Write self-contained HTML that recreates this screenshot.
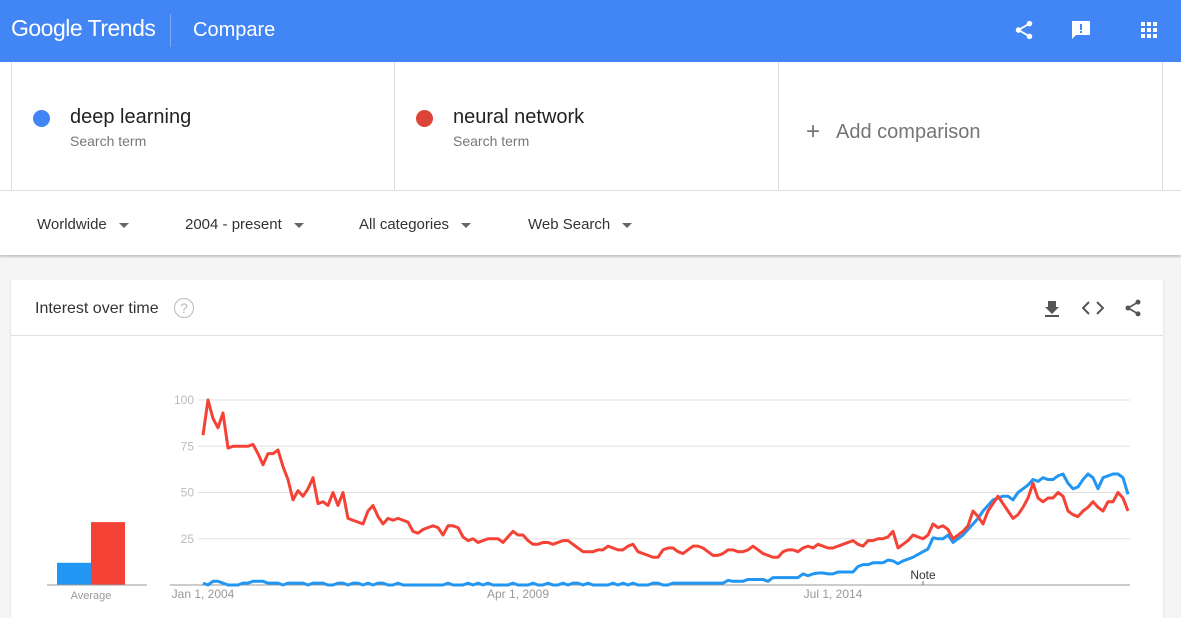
<!DOCTYPE html>
<html><head><meta charset="utf-8"><style>
body{margin:0;width:1181px;height:618px;overflow:hidden;background:#f5f5f5;font-family:"Liberation Sans",sans-serif;position:relative}
.abs{position:absolute}
.arr{display:inline-block;width:0;height:0;border-left:5px solid transparent;border-right:5px solid transparent;border-top:5px solid #666;vertical-align:middle;margin-left:12px}
</style></head><body>
<div class="abs" style="left:0;top:0;width:1181px;height:62px;background:#4285f4;box-shadow:0 1px 3px rgba(0,0,0,.3)">
 <div class="abs" style="left:11px;top:15px;color:#fff;font-size:23px;letter-spacing:-0.5px">Google Trends</div>
 <div class="abs" style="left:170px;top:14px;width:1px;height:33px;background:rgba(255,255,255,.3)"></div>
 <div class="abs" style="left:193px;top:19px;color:#fff;font-size:20px">Compare</div>
 <div class="abs" style="left:1013px;top:19px;width:22px;height:22px">
  <svg width="22" height="22" viewBox="0 0 24 24"><circle cx="18" cy="5" r="3" fill="#fff"/><circle cx="6" cy="12" r="3" fill="#fff"/><circle cx="18" cy="19" r="3" fill="#fff"/><path d="M6 12L18 5M6 12L18 19" stroke="#fff" stroke-width="2"/></svg></div>
 <div class="abs" style="left:1071px;top:20px;width:20px;height:20px">
  <svg width="20" height="20" viewBox="0 0 20 20"><path d="M1 1h18v14H5l-4 4z" fill="#fff"/><rect x="9" y="4" width="2" height="6" fill="#4285f4"/><rect x="9" y="11" width="2" height="2" fill="#4285f4"/></svg></div>
 <div class="abs" style="left:1141px;top:22px;width:16px;height:16px">
  <svg width="16" height="16"><g fill="#fff"><rect x="0" y="0" width="4" height="4"/><rect x="6" y="0" width="4" height="4"/><rect x="12" y="0" width="4" height="4"/><rect x="0" y="6" width="4" height="4"/><rect x="6" y="6" width="4" height="4"/><rect x="12" y="6" width="4" height="4"/><rect x="0" y="12" width="4" height="4"/><rect x="6" y="12" width="4" height="4"/><rect x="12" y="12" width="4" height="4"/></g></svg></div>
</div>
<div class="abs" style="left:0;top:62px;width:1181px;height:193px;background:#fff;box-shadow:0 2px 2px rgba(0,0,0,.2)">
 <div class="abs" style="left:11px;top:0;width:1px;height:128px;background:#ddd"></div>
 <div class="abs" style="left:394px;top:0;width:1px;height:128px;background:#ddd"></div>
 <div class="abs" style="left:778px;top:0;width:1px;height:128px;background:#ddd"></div>
 <div class="abs" style="left:1162px;top:0;width:1px;height:128px;background:#ddd"></div>
 <div class="abs" style="left:0;top:128px;width:1181px;height:1px;background:#ddd"></div>
 <div class="abs" style="left:12px;top:0;width:382px;height:128px">
  <div class="abs" style="left:21px;top:48px;width:17px;height:17px;border-radius:50%;background:#4285f4"></div>
  <div class="abs" style="left:58px;top:44px;font-size:20px;color:#222">deep learning</div>
  <div class="abs" style="left:58px;top:71px;font-size:14px;color:#777">Search term</div>
 </div>
 <div class="abs" style="left:395px;top:0;width:382px;height:128px">
  <div class="abs" style="left:21px;top:48px;width:17px;height:17px;border-radius:50%;background:#db4437"></div>
  <div class="abs" style="left:58px;top:44px;font-size:20px;color:#222">neural network</div>
  <div class="abs" style="left:58px;top:71px;font-size:14px;color:#777">Search term</div>
 </div>
 <div class="abs" style="left:806px;top:55px;font-size:20px;color:#757575"><span style="font-size:24px;margin-right:16px;position:relative;top:1px">+</span>Add comparison</div>
 <div class="abs" style="left:37px;top:154px;font-size:15px;color:#333">Worldwide<span class="arr"></span></div>
 <div class="abs" style="left:185px;top:154px;font-size:15px;color:#333">2004 - present<span class="arr"></span></div>
 <div class="abs" style="left:359px;top:154px;font-size:15px;color:#333">All categories<span class="arr"></span></div>
 <div class="abs" style="left:528px;top:154px;font-size:15px;color:#333">Web Search<span class="arr"></span></div>
</div>
<div class="abs" style="left:11px;top:280px;width:1152px;height:338px;background:#fff;box-shadow:0 1px 2px rgba(0,0,0,.15)">
 <div class="abs" style="left:24px;top:20px;font-size:16px;color:#333">Interest over time</div>
 <div class="abs" style="left:163px;top:18px;width:18px;height:18px;border:1.5px solid #bbb;border-radius:50%;color:#bbb;font-size:14px;text-align:center;line-height:18px">?</div>
 <div class="abs" style="left:1033px;top:19px"><svg width="16" height="18"><path d="M4 2h8v6h3l-7 7-7-7h3z" fill="#555"/><rect x="1" y="16" width="14" height="2" fill="#555"/></svg></div>
 <div class="abs" style="left:1071px;top:20px"><svg width="22" height="16"><path d="M7 2L1 8l6 6M15 2l6 6-6 6" stroke="#555" stroke-width="2" fill="none"/></svg></div>
 <div class="abs" style="left:1112px;top:18px"><svg width="20" height="20" viewBox="0 0 24 24"><circle cx="18" cy="5" r="3" fill="#555"/><circle cx="6" cy="12" r="3" fill="#555"/><circle cx="18" cy="19" r="3" fill="#555"/><path d="M6 12L18 5M6 12L18 19" stroke="#555" stroke-width="2"/></svg></div>
 <div class="abs" style="left:0;top:55px;width:1152px;height:1px;background:#e0e0e0"></div>
</div>
<svg id="chart" class="abs" style="left:0;top:0" width="1181" height="618"></svg>
<script>
const avgLabels=["deep learning","neural network"];
const avgValues=[12,34];
const yTicks=[25,50,75,100];
const xTickLabels=["Jan 1, 2004","Apr 1, 2009","Jul 1, 2014"];
const xTickMonths=[0,63,126];
const deepLearning=[1,0,2,2,1,0,0,0,1,1, 2,2,2,1,1,1,0,1,1,1, 1,0,1,1,1,0,0,1,1,0, 1,1,0,1,0,1,1,0,0,1, 0,0,0,0,0,0,0,0,0,1, 0,0,0,1,0,1,0,1,0,0, 0,0,1,0,0,0,1,0,0,1, 0,0,1,0,1,1,0,1,0,0, 0,0,1,0,1,0,1,0,0,0, 1,1,0,0,1,1,1,1,1,1, 1,1,1,1,1,2.5,2,2,2,3, 3,3,3,2,4,4,4,4,4,4, 6,5,6,6.5,6.5,6,6,7,7,7, 7,10,11,11,12,12,12,13.5,13,11.5, 13,14,15,16.5,18,19.5,25.5,25,25,27, 23,25,27,30,33,36,40,43,46,47, 48,48,46,50,52,54,57,56,58,57, 57,59,60,55,52,53,57,60,58,52, 58,59,60,60,58,49];
const neuralNetwork=[81,100,90,85,93,74,75,75,75,75, 76,71,65,71,71,73,64,57,46,51, 48,52,58,44,45,43,50,43,50,36, 35,34,33,40,43,37,33,36,35,36, 35,34,29,28,30,31,32,31,27,32, 32,31,26,24,25,23,24,25,25,25, 23,26,29,27,27,24,22,22,23,23, 22,23,24,24,22,20,18,18,18,19, 19,21,20,19,19,21,22,18,17,16, 15,15,19,20,20,18,17,19,21,21, 20,18,16,16,17,19,19,18,18,19, 21,19,17,16,15,15,18,19,19,18, 20,21,20,22,21,20,20,21,22,23, 24,22,21,24,24,25,25,26,29,20, 22,24,27,26,25,27,33,31,32,30, 25,27,29,32,40,37,33,40,44,48, 44,40,36,38,42,47,55,47,45,47, 47,50,48,40,38,37,40,42,45,42, 40,45,45,50,47,40];
const NS='http://www.w3.org/2000/svg';
const svg=document.getElementById('chart');
const X0=203,PX=5,Y0=585,PY=1.85;
function xs(m){return X0+m*PX}
function ys(v){return Y0-v*PY}
function mk(t,a,p){const e=document.createElementNS(NS,t);for(const k in a)e.setAttribute(k,a[k]);(p||svg).appendChild(e);return e}
yTicks.forEach(v=>{
 const l=mk('line',{x1:198,x2:1130,y1:ys(v),y2:ys(v),stroke:'#e0e0e0','stroke-width':1});
 
 
 const t=mk('text',{x:194,y:ys(v)+4,'text-anchor':'end','font-size':12,fill:'#bbb','font-family':'Liberation Sans, sans-serif'});
 t.textContent=v;
 
 
});
const ax=mk('line',{x1:170,x2:1130,y1:Y0,y2:Y0,stroke:'#999','stroke-width':1});


xTickLabels.forEach((s,i)=>{
 const t=mk('text',{x:xs(xTickMonths[i]),y:598,'text-anchor':'middle','font-size':12,fill:'#999','font-family':'Liberation Sans, sans-serif'});
 t.textContent=s;
 
 
});
function series(vals,color,name){
 const d=vals.map((v,i)=>(i?'L':'M')+xs(i)+','+ys(v)).join('');
 const p=mk('path',{d:d,fill:'none',stroke:color,'stroke-width':3,'stroke-linejoin':'round'});
 
 
}
series(deepLearning,'#2196f3','deep-learning-line');
series(neuralNetwork,'#f44336','neural-network-line');
const nt=mk('text',{x:923,y:579,'text-anchor':'middle','font-size':12,fill:'#333','font-family':'Liberation Sans, sans-serif'});
nt.textContent='Note';


mk('line',{x1:923,x2:923,y1:581,y2:585,stroke:'#777'});
const cols=['#2196f3','#f44336'];
avgValues.forEach((v,i)=>{
 const r=mk('rect',{x:57+i*34,y:ys(v),width:34,height:v*PY,fill:cols[i]});
 
 
});
const bl=mk('line',{x1:47,x2:147,y1:Y0,y2:Y0,stroke:'#999'});


const at=mk('text',{x:91,y:599,'text-anchor':'middle','font-size':11,fill:'#999','font-family':'Liberation Sans, sans-serif'});
at.textContent='Average';


</script>
</body></html>
